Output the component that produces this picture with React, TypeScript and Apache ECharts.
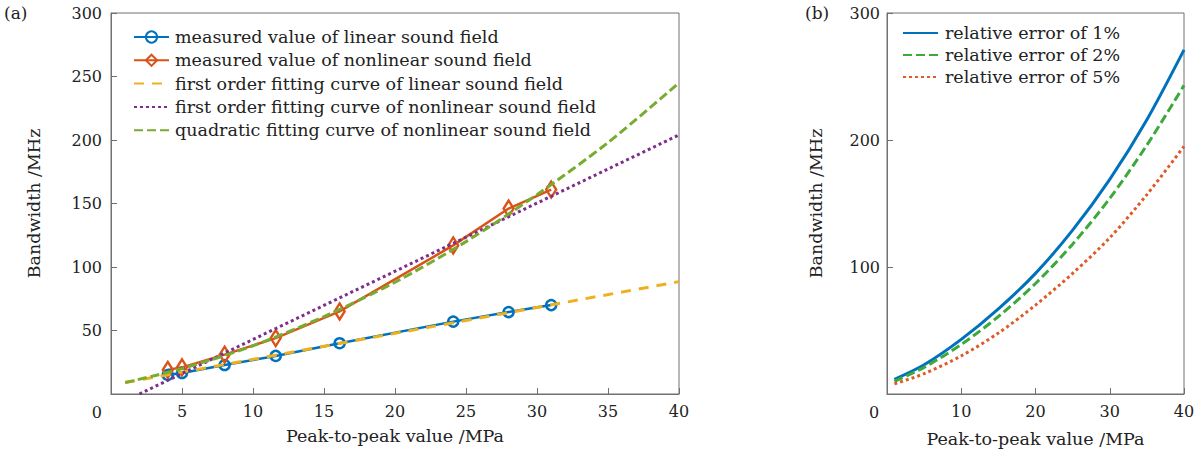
import React, { useEffect, useRef } from "react";
import * as echarts from "echarts";

// Panel (a): measured data
const measuredX = [4, 5, 8, 11.6, 16.1, 24.1, 28, 31];
const linearMeasured = [15, 16.5, 22.8, 30, 40, 57, 64.5, 70];
const nonlinearMeasured = [19, 21, 31, 44, 65, 117, 146, 161];
// Panel (a): fitting curves
const linearFitX = [1, 40];
const linearFitY = [9, 88.5];
const nonlinearFitX = [2, 40];
const nonlinearFitY = [0, 204];
const quadFitX = [1, 5, 10, 15, 20, 25, 30, 35, 40];
const quadFitY = [9, 20, 38, 61, 88, 120, 157, 198, 245];
// Panel (b): relative error curves
const errX = [1, 5, 10, 15, 20, 25, 30, 35, 40];
const err1 = [11.5, 23, 43, 67, 95, 129, 169, 216, 271];
const err2 = [10, 21, 39, 61, 87, 118, 154, 196, 243];
const err5 = [8, 16, 30, 48, 70, 95, 123, 157, 195];

const namesA = [
  "measured value of linear sound field",
  "measured value of nonlinear sound field",
  "first order fitting curve of linear sound field",
  "first order fitting curve of nonlinear sound field",
  "quadratic fitting curve of nonlinear sound field",
];
const namesB = ["relative error of 1%", "relative error of 2%", "relative error of 5%"];

const FONT = "DejaVu Serif";
const AXIS_COLOR = "#707070";
const TEXT = "#222";

const pairs = (xs: number[], ys: number[]) => xs.map((x, i) => [x, ys[i]]);
const noSymbol = { color: "rgba(0,0,0,0)", borderWidth: 0, opacity: 0 };

export default function App() {
  const ref = useRef<HTMLDivElement>(null);
  useEffect(() => {
    if (!ref.current) return;
    const chart = echarts.init(ref.current, undefined, { renderer: "svg" });
    const axisCommon = {
      axisLine: { show: true, lineStyle: { color: AXIS_COLOR, width: 1 } },
      axisTick: { show: true, inside: true, length: 6, lineStyle: { color: AXIS_COLOR } },
      splitLine: { show: false },
      nameTextStyle: { fontFamily: FONT, fontSize: 17.5, color: TEXT },
    };
    const labelCommon = { fontFamily: FONT, fontSize: 16, color: TEXT };
    const hideZero = (v: number) => (v === 0 ? "" : String(v));
    chart.setOption({
      animation: false,
      textStyle: { fontFamily: FONT },
      grid: [
        { left: 111, right: 524, top: 13, bottom: 59, show: true, borderColor: AXIS_COLOR, borderWidth: 1, containLabel: false, outerBoundsMode: "none" },
        { left: 887, right: 19, top: 13, bottom: 59, show: true, borderColor: AXIS_COLOR, borderWidth: 1, containLabel: false, outerBoundsMode: "none" },
      ],
      xAxis: [
        {
          ...axisCommon, type: "value", gridIndex: 0, min: 0, max: 40, interval: 5,
          name: "Peak-to-peak value /MPa", nameLocation: "middle", nameGap: 33,
          axisLabel: { ...labelCommon, margin: 9, formatter: hideZero },
        },
        {
          ...axisCommon, type: "value", gridIndex: 1, min: 0, max: 40, interval: 10,
          name: "Peak-to-peak value /MPa", nameLocation: "middle", nameGap: 36,
          axisLabel: { ...labelCommon, margin: 9, formatter: hideZero },
        },
      ],
      yAxis: [
        {
          ...axisCommon, type: "value", gridIndex: 0, min: 0, max: 300, interval: 50,
          name: "Bandwidth /MHz", nameLocation: "middle", nameGap: 68,
          axisLabel: { ...labelCommon, margin: 9, formatter: hideZero },
        },
        {
          ...axisCommon, type: "value", gridIndex: 1, min: 0, max: 300, interval: 100,
          name: "Bandwidth /MHz", nameLocation: "middle", nameGap: 62,
          axisLabel: { ...labelCommon, margin: 7, formatter: hideZero },
        },
      ],
      legend: [
        {
          data: [
            { name: namesA[0] },
            { name: namesA[1] },
            { name: namesA[2], itemStyle: noSymbol },
            { name: namesA[3], itemStyle: noSymbol },
            { name: namesA[4], itemStyle: noSymbol },
          ],
          orient: "vertical", left: 133, top: 28, padding: 0,
          itemWidth: 35, itemHeight: 14, itemGap: 5.3,
          textStyle: { fontFamily: FONT, fontSize: 17.5, color: TEXT, lineHeight: 18, padding: [0, 0, 0, 1] },
        },
        {
          data: namesB.map((n) => ({ name: n, itemStyle: noSymbol })),
          orient: "vertical", left: 902, top: 24, padding: 0,
          itemWidth: 35, itemHeight: 14, itemGap: 4,
          textStyle: { fontFamily: FONT, fontSize: 17.5, color: TEXT, lineHeight: 18, padding: [0, 0, 0, 2] },
        },
      ],
      graphic: [
        { type: "text", left: 4, top: 4, style: { text: "(a)", font: `17px '${FONT}'`, fill: TEXT } },
        { type: "text", left: 805, top: 4, style: { text: "(b)", font: `17px '${FONT}'`, fill: TEXT } },
        { type: "text", x: 102, y: 412, style: { text: "0", font: `16px '${FONT}'`, fill: TEXT, align: "right", verticalAlign: "middle" } },
        { type: "text", x: 874, y: 412, style: { text: "0", font: `16px '${FONT}'`, fill: TEXT, align: "center", verticalAlign: "middle" } },
      ],
      series: [
        {
          name: namesA[0], type: "line", xAxisIndex: 0, yAxisIndex: 0,
          data: pairs(measuredX, linearMeasured),
          symbol: "circle", symbolSize: 10, color: "#0072BD",
          lineStyle: { color: "#0072BD", width: 2.5 },
          itemStyle: { color: "rgba(255,255,255,0)", borderColor: "#0072BD", borderWidth: 2.5 },
          z: 2,
        },
        {
          name: namesA[1], type: "line", xAxisIndex: 0, yAxisIndex: 0,
          data: pairs(measuredX, nonlinearMeasured),
          symbol: "diamond", symbolSize: [10, 16], color: "#D95319",
          lineStyle: { color: "#D95319", width: 2.5 },
          itemStyle: { color: "rgba(255,255,255,0)", borderColor: "#D95319", borderWidth: 2.5 },
          z: 2,
        },
        {
          name: namesA[2], type: "line", xAxisIndex: 0, yAxisIndex: 0,
          data: pairs(linearFitX, linearFitY), symbol: "none", color: "#EDB120",
          lineStyle: { color: "#EDB120", width: 3, type: [10, 8] }, z: 3,
        },
        {
          name: namesA[3], type: "line", xAxisIndex: 0, yAxisIndex: 0,
          data: pairs(nonlinearFitX, nonlinearFitY), symbol: "none", color: "#7E2F8E",
          lineStyle: { color: "#7E2F8E", width: 3, type: [3, 3] }, z: 3,
        },
        {
          name: namesA[4], type: "line", xAxisIndex: 0, yAxisIndex: 0,
          data: pairs(quadFitX, quadFitY), symbol: "none", smooth: 0.3, color: "#77AC30",
          lineStyle: { color: "#77AC30", width: 3, type: [9, 4] }, z: 3,
        },
        {
          name: namesB[0], type: "line", xAxisIndex: 1, yAxisIndex: 1,
          data: pairs(errX, err1), symbol: "none", smooth: 0.3, color: "#0072BD",
          lineStyle: { color: "#0072BD", width: 3 },
        },
        {
          name: namesB[1], type: "line", xAxisIndex: 1, yAxisIndex: 1,
          data: pairs(errX, err2), symbol: "none", smooth: 0.3, color: "#3BAA3B",
          lineStyle: { color: "#3BAA3B", width: 3, type: [9, 4] },
        },
        {
          name: namesB[2], type: "line", xAxisIndex: 1, yAxisIndex: 1,
          data: pairs(errX, err5), symbol: "none", smooth: 0.3, color: "#E05A28",
          lineStyle: { color: "#E05A28", width: 3, type: [3, 3] },
        },
      ],
    });
    return () => chart.dispose();
  }, []);
  return (
    <div
      ref={ref}
      style={{ position: "fixed", left: 0, top: 0, width: 1203, height: 453, background: "#fff" }}
    />
  );
}
